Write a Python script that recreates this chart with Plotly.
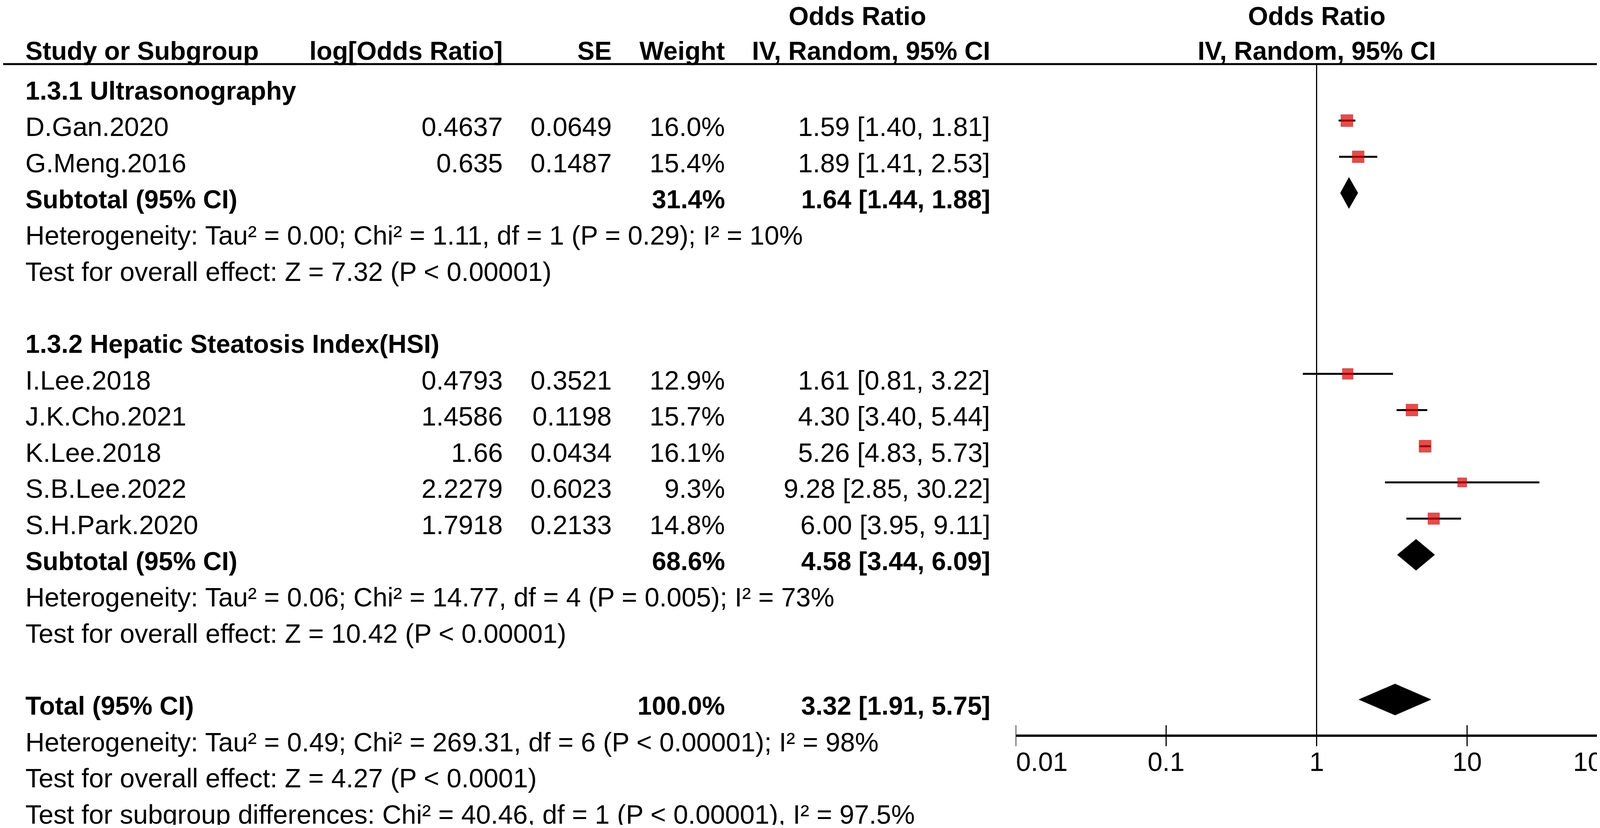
import math
import plotly.graph_objects as go

# study level data
study = ["D.Gan.2020", "G.Meng.2016", "I.Lee.2018", "J.K.Cho.2021", "K.Lee.2018", "S.B.Lee.2022", "S.H.Park.2020"]
study_row = [1, 2, 8, 9, 10, 11, 12]
log_or = ["0.4637", "0.635", "0.4793", "1.4586", "1.66", "2.2279", "1.7918"]
se = ["0.0649", "0.1487", "0.3521", "0.1198", "0.0434", "0.6023", "0.2133"]
weight = [16.0, 15.4, 12.9, 15.7, 16.1, 9.3, 14.8]
or_est = [1.59, 1.89, 1.61, 4.30, 5.26, 9.28, 6.00]
ci_lo = [1.40, 1.41, 0.81, 3.40, 4.83, 2.85, 3.95]
ci_hi = [1.81, 2.53, 3.22, 5.44, 5.73, 30.22, 9.11]

# pooled estimates
pooled_label = ["Subtotal (95% CI)", "Subtotal (95% CI)", "Total (95% CI)"]
pooled_row = [3, 13, 17]
pooled_weight = [31.4, 68.6, 100.0]
pooled_or = [1.64, 4.58, 3.32]
pooled_lo = [1.44, 3.44, 1.91]
pooled_hi = [1.88, 6.09, 5.75]

# subgroup headings and statistics lines
group_label = ["1.3.1 Ultrasonography", "1.3.2 Hepatic Steatosis Index(HSI)"]
group_row = [0, 7]
stat_text = [
    "Heterogeneity: Tau² = 0.00; Chi² = 1.11, df = 1 (P = 0.29); I² = 10%",
    "Test for overall effect: Z = 7.32 (P < 0.00001)",
    "Heterogeneity: Tau² = 0.06; Chi² = 14.77, df = 4 (P = 0.005); I² = 73%",
    "Test for overall effect: Z = 10.42 (P < 0.00001)",
    "Heterogeneity: Tau² = 0.49; Chi² = 269.31, df = 6 (P < 0.00001); I² = 98%",
    "Test for overall effect: Z = 4.27 (P < 0.0001)",
    "Test for subgroup differences: Chi² = 40.46, df = 1 (P < 0.00001), I² = 97.5%",
]
stat_row = [4, 5, 14, 15, 18, 19, 20]

tick_vals = [0.01, 0.1, 1, 10, 100]
tick_text = ["0.01", "0.1", "1", "10", "100"]

# page is offset by the default 8px body margin, so size the figure to fit the window
PAD = 8
W, H = 4212 - 2 * PAD, 2119 - 2 * PAD
ROW0, PITCH = 216, 92.6   # page y of row 0 and row spacing
FONT = "Liberation Sans, Arial, sans-serif"
REG = 68
BOLD = 66
OFF = 0.17  # text sits a touch below the marker line
AXIS_ROW = 18


def px(x):
    return (x - PAD) / W


def row_at(y):
    return (y - ROW0) / PITCH


fig = go.Figure()

# confidence interval whiskers
cx, cy = [], []
for r, lo, hi in zip(study_row, ci_lo, ci_hi):
    cx += [lo, hi, None]
    cy += [r, r, None]
fig.add_trace(go.Scatter(x=cx, y=cy, mode="lines", line=dict(color="black", width=5),
                         hoverinfo="skip", showlegend=False))

# weight squares
fig.add_trace(go.Scatter(x=or_est, y=study_row, mode="markers",
                         marker=dict(symbol="square", color="#DD0000",
                                     size=[7.7 * w ** 0.5 for w in weight],
                                     line=dict(color="#A00000", width=1)),
                         showlegend=False))

# pooled diamonds
dx, dy = [], []
for r, est, lo, hi in zip(pooled_row, pooled_or, pooled_lo, pooled_hi):
    dx += [lo, est, hi, est, lo, None]
    dy += [r, r - 0.43, r, r + 0.43, r, None]
fig.add_trace(go.Scatter(x=dx, y=dy, mode="lines", fill="toself", fillcolor="black",
                         line=dict(color="black", width=1), showlegend=False))

shapes = []
# header rule
shapes.append(dict(type="line", xref="paper", yref="y", x0=0, x1=px(4206), y0=row_at(164), y1=row_at(164),
                   line=dict(color="black", width=5)))
# line of no effect
shapes.append(dict(type="line", xref="x", yref="y", x0=1, x1=1, y0=row_at(164), y1=AXIS_ROW,
                   line=dict(color="black", width=3)))
# bottom scale
shapes.append(dict(type="line", xref="x", yref="y", x0=tick_vals[0], x1=tick_vals[-1],
                   y0=AXIS_ROW, y1=AXIS_ROW, line=dict(color="black", width=6)))
for t in tick_vals:
    shapes.append(dict(type="line", xref="x", yref="y", x0=t, x1=t, y0=AXIS_ROW - 0.29,
                       y1=AXIS_ROW + 0.29, line=dict(color="black", width=3)))

ann = []


def txt(s, x, y, anchor="left", bold=False, xref="paper"):
    ann.append(dict(text="<b>%s</b>" % s if bold else s, x=x, y=y, xref=xref, yref="y",
                    xanchor=anchor, yanchor="middle", showarrow=False, borderpad=0,
                    font=dict(family=FONT, size=BOLD if bold else REG, color="black")))


# column headers
txt("Odds Ratio", px(2195), row_at(41), "center", True)
txt("Odds Ratio", math.log10(1), row_at(41), "center", True, xref="x")
txt("Study or Subgroup", px(64), row_at(130), "left", True)
txt("log[Odds Ratio]", px(1288), row_at(130), "right", True)
txt("SE", px(1567), row_at(130), "right", True)
txt("Weight", px(1857), row_at(130), "right", True)
txt("IV, Random, 95% CI", px(2536), row_at(130), "right", True)
txt("IV, Random, 95% CI", math.log10(1), row_at(130), "center", True, xref="x")

for g, r in zip(group_label, group_row):
    txt(g, px(64), r + OFF, "left", True)

for i in range(len(study)):
    r = study_row[i] + OFF
    txt(study[i], px(64), r)
    txt(log_or[i], px(1288), r, "right")
    txt(se[i], px(1567), r, "right")
    txt("%.1f%%" % weight[i], px(1857), r, "right")
    txt("%.2f [%.2f, %.2f]" % (or_est[i], ci_lo[i], ci_hi[i]), px(2536), r, "right")

for i in range(len(pooled_label)):
    r = pooled_row[i] + OFF
    txt(pooled_label[i], px(64), r, "left", True)
    txt("%.1f%%" % pooled_weight[i], px(1857), r, "right", True)
    txt("%.2f [%.2f, %.2f]" % (pooled_or[i], pooled_lo[i], pooled_hi[i]), px(2536), r, "right", True)

for s, r in zip(stat_text, stat_row):
    txt(s, px(64), r + OFF)

# scale labels (annotations on a log axis take log10 positions), end labels kept inside
for i, (v, t) in enumerate(zip(tick_vals, tick_text)):
    anchor = "left" if i == 0 else ("right" if i == len(tick_vals) - 1 else "center")
    txt(t, math.log10(v), AXIS_ROW + 0.72, anchor, xref="x")

fig.update_layout(
    width=W, height=H,
    margin=dict(l=0, r=0, t=0, b=0),
    paper_bgcolor="white", plot_bgcolor="white",
    xaxis=dict(type="log", range=[-2, 2], domain=[px(2600), px(4141)], visible=False),
    yaxis=dict(range=[row_at(H + PAD), row_at(PAD)], domain=[0, 1], visible=False),
    shapes=shapes, annotations=ann, showlegend=False,
)

fig.write_html("out.html")
